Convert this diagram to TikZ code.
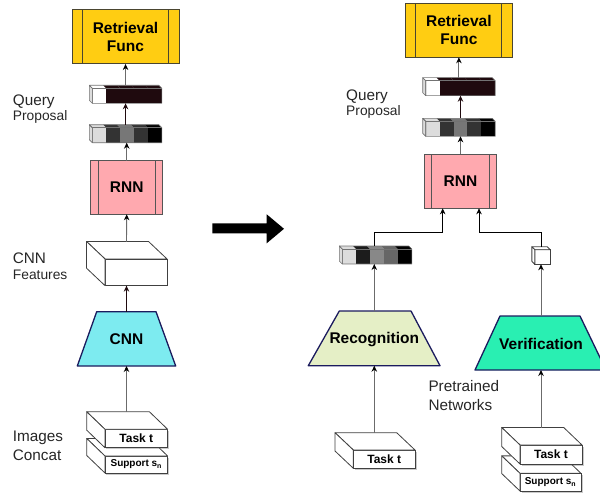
\documentclass[tikz,border=0pt]{standalone}
\usepackage{fontspec}
\setmainfont{Liberation Sans}
\usetikzlibrary{arrows.meta,shadows,calc}
\definecolor{retY}{HTML}{FFCD12}
\definecolor{retB}{HTML}{4A4530}
\definecolor{rnnP}{HTML}{FFA9AF}
\definecolor{rnnB}{HTML}{555555}
\definecolor{cnnC}{HTML}{7DEBF0}
\definecolor{navy}{HTML}{1B1B5E}
\definecolor{recG}{HTML}{E5EFC6}
\definecolor{verG}{HTML}{29EFB2}
\definecolor{maroon}{HTML}{1F0A0E}
\definecolor{qW}{HTML}{FFFFFF}
\definecolor{qL}{HTML}{DCDCDC}
\definecolor{qD}{HTML}{333333}
\definecolor{qM}{HTML}{777777}
\definecolor{qK}{HTML}{000000}
\definecolor{qR}{HTML}{1C1C1C}
\definecolor{qN}{HTML}{888888}
\definecolor{qS}{HTML}{666666}
\definecolor{lineG}{HTML}{6B6B6B}
\newcommand\taskfont{\bfseries\fontsize{12}{14}\selectfont}
\newcommand\supfont{\bfseries\fontsize{10}{12}\selectfont}
\tikzset{
 boldlab/.style={font=\bfseries\fontsize{15.5}{18}\selectfont, align=center, text=black, inner sep=0},
 sidelab/.style={font=\fontsize{15.3}{18}\selectfont, anchor=base west, inner sep=0, text=black!85},
 smalllab/.style={font=\fontsize{13.8}{16}\selectfont, anchor=base west, inner sep=0, text=black!85},
 funcbox/.style={draw=retB, fill=retY, line width=1pt, inner sep=0, outer sep=0, boldlab},
 rnnbox/.style={draw=rnnB, fill=rnnP, line width=1pt, inner sep=0, outer sep=0, boldlab},
 conn/.style={draw=lineG, line width=0.9pt, -{Stealth[length=6pt,width=5.5pt,color=black]}},
 conn2/.style={draw=black, line width=0.9pt, -{Stealth[length=6pt,width=5.5pt]}},
 dconn/.style={draw=maroon, line width=1.6pt, -{Stealth[length=6pt,width=5.5pt,color=maroon]}},
 cubefront/.style={draw=black!75, fill=white, line width=0.8pt, inner sep=0, outer sep=0},
 cubeline/.style={draw=black!75, fill=white, line width=0.8pt, line join=round},
 blockline/.style={draw=black!55, line width=0.6pt, line join=round},
 trap/.style={draw=navy, line width=1.3pt, line join=round},
 shadowed/.style={drop shadow={shadow xshift=1.5pt, shadow yshift=-1.5pt, opacity=0.35, fill=black!60}},
}
% name, front-centre x, front-centre y, w, h, dx, dy, text, options
\newcommand\cuboid[9]{%
  \node[cubefront, minimum width=#4, minimum height=#5, #9] (#1) at (#2,#3) {#8};
  \filldraw[cubeline] (#1.north west) -- ++(-#6,-#7) -- ++(#4,0) -- (#1.north east) -- cycle;
  \filldraw[cubeline] (#1.north west) -- ++(-#6,-#7) -- ++(0,#5) -- (#1.south west) -- cycle;
}
% name, x0, y0, colours, n cells, left-face colour
\newcommand\qblock[6]{%
  \foreach \c [count=\i from 0] in {#4} {
    \fill[\c] ({#2+\i*13.9-3},{#3-3}) -- ++(13.9,0) -- ++(3,3) -- ++(-13.9,0) -- cycle;
    \fill[\c] ({#2+\i*13.9},#3) rectangle ++(13.9,15);
  }
  \filldraw[blockline, fill=#6] ({#2-3},{#3-3}) -- (#2,#3) -- (#2,{#3+15}) -- ({#2-3},{#3+12}) -- cycle;
  \draw[blockline] ({#2-3},{#3-3}) -- ++({#5*13.9},0) -- ++(3,3) -- ++(0,15) -- ++({-#5*13.9},0) -- ++(0,-15) -- cycle;
  \draw[blockline] (#2,#3) -- ++({#5*13.9},0);
  \node[inner sep=0, outer sep=0, minimum width={#5*13.9+3}, minimum height=18] (#1) at ({#2+#5*13.9/2-1.5},{#3+6}) {};
}
\begin{document}
\begin{tikzpicture}[x=1pt,y=-1pt]
\useasboundingbox (0,0) rectangle (600,495);
\clip (0,0) rectangle (600,495);

% ================= LEFT =================
\node[funcbox, minimum width=107, minimum height=54] (ret1) at (125.5,37) {Retrieval\\Func};
\draw[retB, line width=1pt] ($(ret1.north west)+(10.5,0)$) -- ($(ret1.south west)+(10.5,0)$);
\draw[retB, line width=1pt] ($(ret1.north east)+(-10.5,0)$) -- ($(ret1.south east)+(-10.5,0)$);

\qblock{qa1}{92.3}{88.3}{qW,maroon,maroon,maroon,maroon}{5}{qL}
\qblock{qb1}{92.3}{127.7}{qL,qD,qM,qD,qK}{5}{qL}

\node[rnnbox, minimum width=72, minimum height=53.6] (rnn1) at (126.7,187.5) {RNN};
\draw[rnnB, line width=1pt] ($(rnn1.north west)+(7.4,0)$) -- ($(rnn1.south west)+(7.4,0)$);
\draw[rnnB, line width=1pt] ($(rnn1.north east)+(-7.4,0)$) -- ($(rnn1.south east)+(-7.4,0)$);

\cuboid{feat}{136}{272.3}{62}{26.7}{18.5}{17.5}{}{}
\coordinate (featTop) at (126.5,241.8);

\filldraw[trap, fill=cnnC] (96.7,311.7) -- (156,311.7) -- (175.7,366) -- (77.3,366) -- cycle;
\node[boldlab] (cnn1) at (126.5,339) {CNN};
\coordinate (cnn1top) at (126.5,311.7);
\coordinate (cnn1bot) at (126.5,366);

\cuboid{sup1}{136.3}{464.5}{62.7}{17}{18.3}{17.6}{\supfont Support s\textsubscript{n}}{shadowed}
\cuboid{task1}{136.3}{438.5}{62.7}{18.4}{18.3}{17.6}{\taskfont Task t}{shadowed}
\coordinate (task1top) at (126.5,411.7);

\draw[conn] (task1top) -- (cnn1bot);
\draw[dconn] (cnn1top) -- (feat.south -| cnn1top);
\draw[conn] (featTop) -- (rnn1.south);
\draw[conn] (rnn1.north) -- (qb1.south -| rnn1.north);
\draw[dconn] (qb1.north) -- (qa1.south);
\draw[conn] (qa1.north) -- (ret1.south -| qa1.north);

\node[sidelab] (lq1) at (12.7,106) {Query};
\node[smalllab] (lp1) at (12.7,120.5) {Proposal};
\node[sidelab] (lc1) at (12.7,263.3) {CNN};
\node[smalllab] (lf1) at (12.7,279.3) {Features};
\node[sidelab] (li1) at (12.7,441) {Images};
\node[sidelab] (lcc1) at (12.7,460) {Concat};

% ================= BIG ARROW =================
\fill[black] (212.3,223.3) -- (266.7,223.3) -- (266.7,214.3) -- (284,228.8) -- (266.7,243.3) -- (266.7,233.3) -- (212.3,233.3) -- cycle;

% ================= RIGHT =================
\node[funcbox, minimum width=107.7, minimum height=54] (ret2) at (458.9,30.3) {Retrieval\\Func};
\draw[retB, line width=1pt] ($(ret2.north west)+(10.7,0)$) -- ($(ret2.south west)+(10.7,0)$);
\draw[retB, line width=1pt] ($(ret2.north east)+(-11,0)$) -- ($(ret2.south east)+(-11,0)$);

\qblock{qa2}{425.7}{80.7}{qW,maroon,maroon,maroon,maroon}{5}{qL}
\qblock{qb2}{425.7}{121.3}{qL,qD,qM,qD,qK}{5}{qL}

\node[rnnbox, minimum width=72.4, minimum height=54.3] (rnn2) at (460.5,181.2) {RNN};
\draw[rnnB, line width=1pt] ($(rnn2.north west)+(7.4,0)$) -- ($(rnn2.south west)+(7.4,0)$);
\draw[rnnB, line width=1pt] ($(rnn2.north east)+(-6.9,0)$) -- ($(rnn2.south east)+(-6.9,0)$);

\draw[conn] (rnn2.north) -- (qb2.south -| rnn2.north);
\draw[dconn] (qb2.north -| rnn2.north) -- (qa2.south -| rnn2.north);
\draw[conn] (qa2.north -| ret2.south) -- (ret2.south);

\node[sidelab] (lq2) at (346,100.3) {Query};
\node[smalllab] (lp2) at (346,115.5) {Proposal};

% recognition branch
\qblock{recblk}{342.3}{249}{qL,qR,qN,qS,qK}{5}{qL}
\filldraw[trap, fill=recG] (339.3,311) -- (411,311) -- (440,365.7) -- (308.3,365.7) -- cycle;
\node[boldlab] (rec) at (374.3,339.5) {Recognition};
\coordinate (rectop) at (374.3,311);
\coordinate (recbot) at (374.3,365.7);
\cuboid{task2}{384.2}{459.2}{61.7}{18.3}{18.3}{17.3}{\taskfont Task t}{shadowed}
\coordinate (task2top) at (374.3,432.7);

% verification branch
\cuboid{vcube}{542.5}{257}{15.3}{14.6}{3}{3}{}{}
\filldraw[trap, fill=verG] (500,316) -- (580,316) -- (606,370) -- (475,370) -- cycle;
\node[boldlab] (ver) at (541,344) {Verification};
\coordinate (vertop) at (541,316);
\coordinate (verbot) at (541,370);
\cuboid{vsup}{550.5}{482.2}{61}{17.7}{18.3}{17.5}{\supfont Support s\textsubscript{n}}{shadowed}
\cuboid{vtask}{551}{454.5}{62}{19}{18.3}{17.5}{\taskfont Task t}{shadowed}
\coordinate (vtasktop) at (541,427.5);

\node[sidelab] (lpt) at (428.3,391.7) {Pretrained};
\node[sidelab] (lnw) at (428.3,410) {Networks};

% connectors right
\coordinate (busL) at (374.3,232.3);
\coordinate (busR) at (541,232.3);
\coordinate (rin1) at ($(rnn2.south west)+(18.4,0)$);
\coordinate (rin2) at ($(rnn2.south east)+(-17.7,0)$);
\draw[conn2] (busL |- recblk.north) -- (busL) -| (rin1);
\draw[conn2] ($(busR |- vcube.north)+(0,-3)$) -- (busR) -| (rin2);
\draw[conn] (rectop) -- (recblk.south -| rectop);
\draw[conn] (task2top) -- (recbot);
\draw[conn] (vertop) -- (vcube.south -| vertop);
\draw[conn] (vtasktop) -- (verbot);
\end{tikzpicture}
\end{document}
